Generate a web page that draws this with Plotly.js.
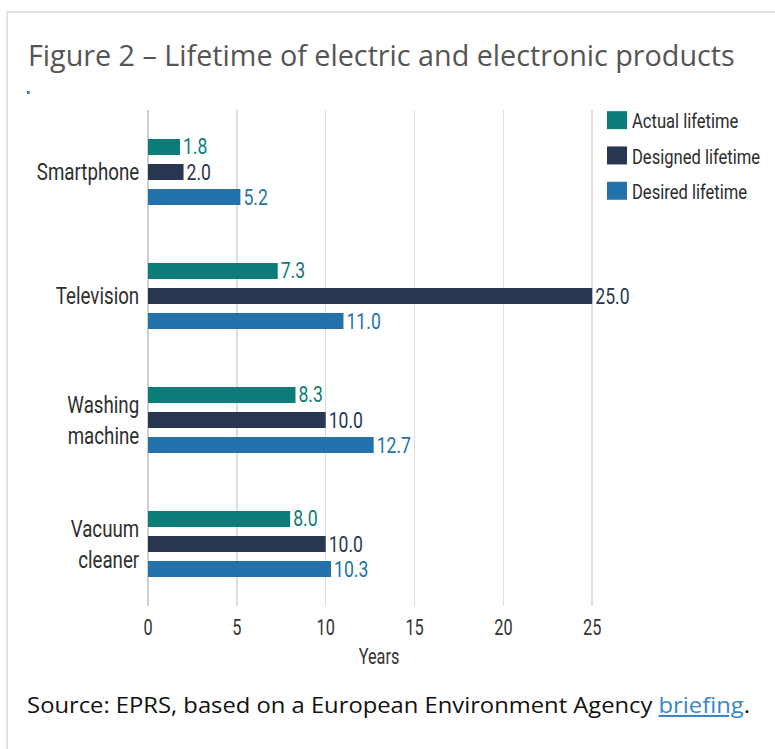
<!DOCTYPE html>
<html>
<head>
<meta charset="utf-8">
<script src="https://cdn.plot.ly/plotly-3.0.1.min.js"></script>
<style>
  html, body { margin: 0; padding: 0; background: #ffffff; }
  #chart { width: 775px; height: 749px; }
</style>
</head>
<body>
<div id="chart"></div>
<script>
// ---- data ----
const categories = ['Smartphone', 'Television', 'Washing<br>machine', 'Vacuum<br>cleaner'];
const actualLifetime = [1.8, 7.3, 8.3, 8.0];
const designedLifetime = [2.0, 25.0, 10.0, 10.0];
const desiredLifetime = [5.2, 11.0, 12.7, 10.3];
const seriesNames = ['Actual lifetime', 'Designed lifetime', 'Desired lifetime'];
const xTickValues = [0, 5, 10, 15, 20, 25];
const titleText = 'Figure 2 \u2013 Lifetime of electric and electronic products';
const sourceText = 'Source: EPRS, based on a European Environment Agency ';
const linkText = 'briefing';

// ---- style ----
const colors = ['#0b7c77', '#273651', '#2372ab'];
const chartFont = 'Roboto, "Liberation Sans", sans-serif';
const openFont = '"Open Sans", sans-serif';

const W = 775, H = 749;
const M = { l: 148, r: 165, t: 110, b: 143, autoexpand: false };
const pw = W - M.l - M.r, ph = H - M.t - M.b;
const px2x = px => (px - M.l) / pw;
const px2y = py => 1 - (py - M.t) / ph;

const seriesValues = [actualLifetime, designedLifetime, desiredLifetime];
const traces = seriesValues.map((vals, i) => ({
  type: 'bar',
  orientation: 'h',
  name: seriesNames[i],
  legendgroup: 'g' + i,
  y: categories,
  x: vals,
  text: vals.map(v => v.toFixed(1)),
  textposition: 'outside',
  constraintext: 'none',
  cliponaxis: false,
  textfont: { family: chartFont, size: 22, color: colors[i] },
  marker: { color: colors[i], line: { width: 0 } },
  hoverinfo: 'skip'
}));

const layout = {
  width: W, height: H,
  margin: M,
  paper_bgcolor: '#ffffff',
  plot_bgcolor: '#ffffff',
  barmode: 'group',
  bargap: 0.395,
  bargroupgap: 0.36,
  showlegend: true,
  legend: {
    x: px2x(592), y: px2y(100), xanchor: 'left', yanchor: 'top',
    traceorder: 'grouped', tracegroupgap: 5,
    font: { family: chartFont, size: 21, color: '#2b2b2b' },
    bgcolor: 'rgba(0,0,0,0)', borderwidth: 0
  },
  title: {
    text: titleText,
    xref: 'container', yref: 'container',
    x: 28 / W, xanchor: 'left',
    y: 1 - 56 / H, yanchor: 'middle',
    font: { family: openFont, size: 30, color: '#555555' }
  },
  xaxis: {
    range: [0, 26],
    tickvals: xTickValues,
    ticktext: xTickValues.map(String),
    showgrid: true, gridcolor: '#dedede', gridwidth: 1.5,
    zeroline: true, zerolinecolor: '#d0d0d0', zerolinewidth: 1.5,
    showline: false,
    ticks: 'outside', ticklen: 2, tickcolor: 'rgba(0,0,0,0)',
    tickfont: { family: chartFont, size: 22, color: '#333333' },
    title: { text: 'Years', standoff: 9, font: { family: chartFont, size: 22, color: '#333333' } },
    fixedrange: true
  },
  yaxis: {
    type: 'category',
    autorange: 'reversed',
    showgrid: false, zeroline: false, showline: false,
    ticks: 'outside', ticklen: 3, tickcolor: 'rgba(0,0,0,0)',
    tickfont: { family: chartFont, size: 24, color: '#2e2e2e' },
    fixedrange: true
  },
  shapes: [
    { type: 'rect', xref: 'paper', yref: 'paper',
      x0: px2x(7), x1: px2x(800), y0: px2y(12), y1: px2y(800),
      line: { color: '#e2e2e2', width: 2 }, fillcolor: 'rgba(0,0,0,0)', layer: 'below' },
    { type: 'rect', xref: 'paper', yref: 'paper',
      x0: px2x(27), x1: px2x(29.5), y0: px2y(91), y1: px2y(94),
      line: { width: 0 }, fillcolor: '#1a7f9a' }
  ],
  annotations: [
    { xref: 'paper', yref: 'paper', x: px2x(25), y: px2y(704),
      xanchor: 'left', yanchor: 'middle', showarrow: false,
      text: sourceText + '<span style="color:#3b86c6"><u>' + linkText + '</u></span>.',
      font: { family: openFont, size: 21.5, color: '#111111' } }
  ]
};

// horizontal condensing of rendered text (the reference uses a condensed face)
function scaleText(el, s, anchor) {
  const bb = el.getBBox();
  const ax = anchor === 'left' ? bb.x : anchor === 'right' ? bb.x + bb.width : bb.x + bb.width / 2;
  const prev = el.getAttribute('transform') || '';
  el.setAttribute('transform', prev + ' translate(' + ax + ',0) scale(' + s + ',1) translate(' + (-ax) + ',0)');
}
function fitWidth(el, target, anchor) {
  const w = el.getBBox().width;
  if (w > 0) scaleText(el, target / w, anchor);
}

Plotly.newPlot('chart', traces, layout, { displayModeBar: false, staticPlot: true }).then(gd => {
  gd.querySelectorAll('.legend .legendpoints path').forEach(p => p.setAttribute('d', 'M15,9H-5V-9H15Z'));
  gd.querySelectorAll('g.ytick text').forEach(t => scaleText(t, 0.78, 'right'));
  gd.querySelectorAll('g.xtick text').forEach(t => scaleText(t, 0.74, 'center'));
  gd.querySelectorAll('.g-xtitle text').forEach(t => scaleText(t, 0.74, 'center'));
  gd.querySelectorAll('text.bartext').forEach(t => scaleText(t, 0.8, 'left'));
  gd.querySelectorAll('.legend text.legendtext').forEach(t => scaleText(t, 0.79, 'left'));
  gd.querySelectorAll('.g-gtitle text').forEach(t => fitWidth(t, 707, 'left'));
  gd.querySelectorAll('.annotation text').forEach(t => fitWidth(t, 723, 'left'));
});
</script>
</body>
</html>
